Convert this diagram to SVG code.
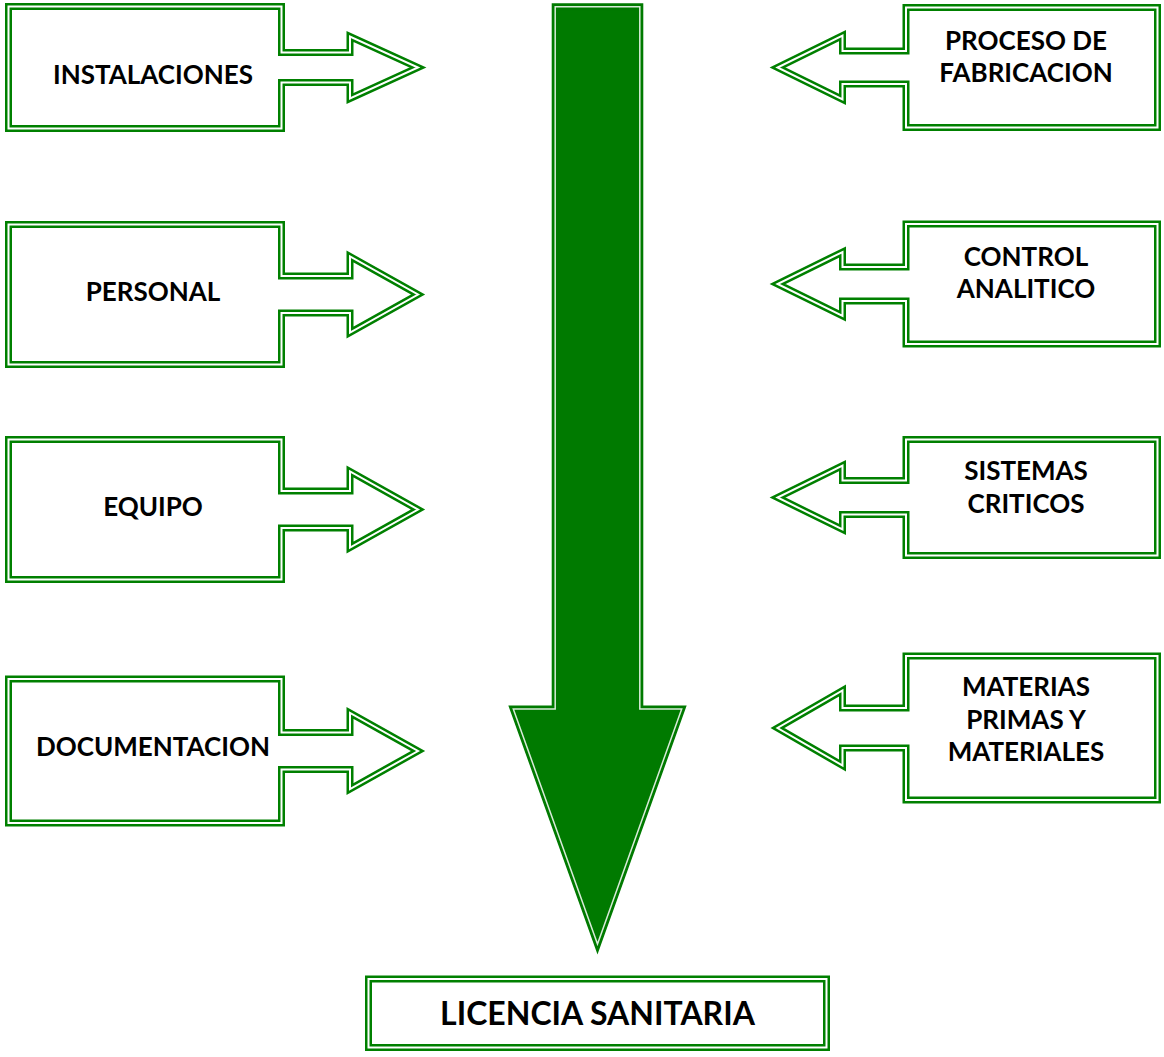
<svg xmlns="http://www.w3.org/2000/svg" xmlns:xlink="http://www.w3.org/1999/xlink" width="1164" height="1057" viewBox="0 0 1164 1057">
  <style>
    .band { fill: #ffffff; stroke: #008000; stroke-width: 7; stroke-linejoin: miter; stroke-miterlimit: 10; }
    .gap { fill: none; stroke: #ffffff; stroke-width: 2; stroke-linejoin: miter; stroke-miterlimit: 10; }
    .big { fill: #007a00; stroke: #007a00; stroke-width: 7; stroke-linejoin: miter; stroke-miterlimit: 10; }
    .big-gap { fill: none; stroke: #ffffff; stroke-width: 1.5; stroke-linejoin: miter; stroke-miterlimit: 10; opacity: 0.85; }
    .lbl { font-family: "Lato", "Liberation Sans", sans-serif; font-weight: 700; font-size: 26px; fill: #000000; text-anchor: middle; }
    .lbl-big { font-size: 32px; }
  </style>
  <defs>
    <!-- callouts pointing right (left column) -->
    <path id="s-inst" d="M 8.5 6.5 H 281.5 V 52.5 H 350 V 36.5 L 418 67.5 L 350 98.5 V 82.5 H 281.5 V 128.5 H 8.5 Z"/>
    <path id="s-pers" d="M 8.5 224.5 H 281.5 V 276 H 350 V 256.5 L 418 294.5 L 350 332.5 V 313 H 281.5 V 364.5 H 8.5 Z"/>
    <path id="s-equi" d="M 8.5 439.5 H 281.5 V 491 H 350 V 471.5 L 418 509.5 L 350 547.5 V 528 H 281.5 V 579.5 H 8.5 Z"/>
    <path id="s-docu" d="M 8.5 679 H 281.5 V 732.5 H 350 V 713 L 418 751 L 350 789 V 769.5 H 281.5 V 823 H 8.5 Z"/>
    <!-- callouts pointing left (right column) -->
    <path id="s-proc" d="M 1157.5 7.5 H 906 V 51 H 842.5 V 35.5 L 777.5 67.5 L 842.5 99.5 V 84 H 906 V 127.5 H 1157.5 Z"/>
    <path id="s-cont" d="M 1157.5 224 H 906 V 267 H 842.5 V 252 L 777.5 284 L 842.5 316 V 301 H 906 V 344 H 1157.5 Z"/>
    <path id="s-sist" d="M 1157.5 439.5 H 906 V 480.5 H 842.5 V 465.5 L 777.5 497.5 L 842.5 529.5 V 514.5 H 906 V 555.5 H 1157.5 Z"/>
    <path id="s-mate" d="M 1157.5 656 H 906 V 708 H 842.5 V 690.5 L 777.5 728 L 842.5 765.5 V 748 H 906 V 800 H 1157.5 Z"/>
    <!-- result box -->
    <rect id="s-lic" x="368.5" y="979" width="458" height="68.5"/>
    <!-- central block arrow -->
    <path id="s-main" d="M 555.2 6.8 H 639.8 V 709 H 681.7 L 597.5 944 L 513.3 709 H 555.2 Z"/>
  </defs>

  <g id="connectors">
    <g id="main-arrow">
      <use xlink:href="#s-main" href="#s-main" class="big"/>
      <use xlink:href="#s-main" href="#s-main" class="big-gap"/>
    </g>
  </g>

  <g id="instalaciones">
    <use xlink:href="#s-inst" href="#s-inst" class="band"/>
    <use xlink:href="#s-inst" href="#s-inst" class="gap"/>
    <text class="lbl" x="153" y="84">INSTALACIONES</text>
  </g>
  <g id="personal">
    <use xlink:href="#s-pers" href="#s-pers" class="band"/>
    <use xlink:href="#s-pers" href="#s-pers" class="gap"/>
    <text class="lbl" x="153" y="301">PERSONAL</text>
  </g>
  <g id="equipo">
    <use xlink:href="#s-equi" href="#s-equi" class="band"/>
    <use xlink:href="#s-equi" href="#s-equi" class="gap"/>
    <text class="lbl" x="153" y="516">EQUIPO</text>
  </g>
  <g id="documentacion">
    <use xlink:href="#s-docu" href="#s-docu" class="band"/>
    <use xlink:href="#s-docu" href="#s-docu" class="gap"/>
    <text class="lbl" x="153" y="756">DOCUMENTACION</text>
  </g>

  <g id="proceso-fabricacion">
    <use xlink:href="#s-proc" href="#s-proc" class="band"/>
    <use xlink:href="#s-proc" href="#s-proc" class="gap"/>
    <text class="lbl" x="1026" y="50">PROCESO DE</text>
    <text class="lbl" x="1026" y="82">FABRICACION</text>
  </g>
  <g id="control-analitico">
    <use xlink:href="#s-cont" href="#s-cont" class="band"/>
    <use xlink:href="#s-cont" href="#s-cont" class="gap"/>
    <text class="lbl" x="1026" y="266">CONTROL</text>
    <text class="lbl" x="1026" y="298">ANALITICO</text>
  </g>
  <g id="sistemas-criticos">
    <use xlink:href="#s-sist" href="#s-sist" class="band"/>
    <use xlink:href="#s-sist" href="#s-sist" class="gap"/>
    <text class="lbl" x="1026" y="480">SISTEMAS</text>
    <text class="lbl" x="1026" y="513">CRITICOS</text>
  </g>
  <g id="materias-primas">
    <use xlink:href="#s-mate" href="#s-mate" class="band"/>
    <use xlink:href="#s-mate" href="#s-mate" class="gap"/>
    <text class="lbl" x="1026" y="696">MATERIAS</text>
    <text class="lbl" x="1026" y="729">PRIMAS Y</text>
    <text class="lbl" x="1026" y="761">MATERIALES</text>
  </g>

  <g id="licencia-sanitaria">
    <use xlink:href="#s-lic" href="#s-lic" class="band"/>
    <use xlink:href="#s-lic" href="#s-lic" class="gap"/>
    <text class="lbl lbl-big" x="597.5" y="1025">LICENCIA SANITARIA</text>
  </g>
</svg>
